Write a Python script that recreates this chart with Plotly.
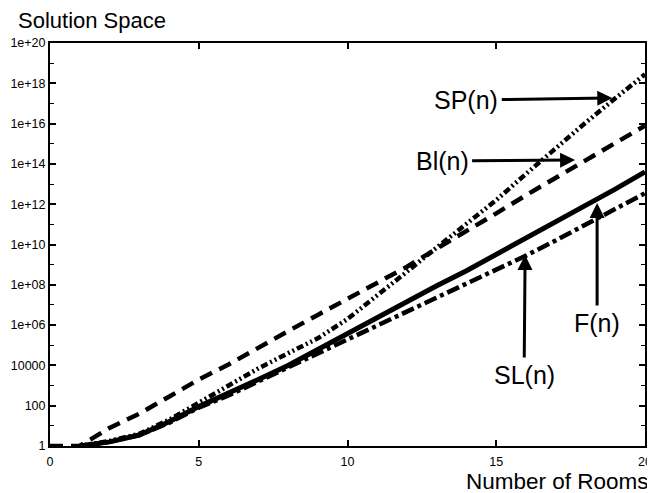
import plotly.graph_objects as go

# Number of rooms
n_bl = list(range(0, 21))
n_all = list(range(1, 21))

# Bl(n)
bl_vals = [1, 1, 7.9, 40, 280, 2.0e3, 1.1e4, 7.9e4, 5.0e5, 3.2e6, 2.0e7,
           1.26e8, 7.9e8, 6.3e9, 4.5e10, 3.5e11, 2.8e12, 2.0e13, 1.6e14, 1.1e15, 7.9e15]
# SP(n)
sp_vals = [1, 1.8, 4, 20, 140, 1.0e3, 7.1e3, 4.0e4, 2.2e5, 2.0e6,
           2.8e7, 4.5e8, 7.1e9, 1.0e11, 1.6e12, 3.2e13, 6.3e14, 1.1e16, 1.8e17, 2.8e18]
# F(n)
f_vals = [1, 1.6, 3.5, 16, 90, 400, 2.0e3, 1.0e4, 6.3e4, 4.0e5,
          2.2e6, 1.4e7, 8.9e7, 5.0e8, 3.2e9, 2.0e10, 1.26e11, 7.9e11, 5.6e12, 4.0e13]
# SL(n)
sl_vals = [1, 1.6, 3.5, 14, 80, 320, 1.6e3, 7.9e3, 4.0e4, 2.0e5,
           1.0e6, 5.0e6, 2.5e7, 1.26e8, 6.3e8, 2.8e9, 1.6e10, 1.0e11, 5.6e11, 3.5e12]

y_tickvals = [1e0, 1e2, 1e4, 1e6, 1e8, 1e10, 1e12, 1e14, 1e16, 1e18, 1e20]
y_ticktext = ["1", "100", "10000", "1e+06", "1e+08", "1e+10", "1e+12",
              "1e+14", "1e+16", "1e+18", "1e+20"]
y_minor = [1e1, 1e3, 1e5, 1e7, 1e9, 1e11, 1e13, 1e15, 1e17, 1e19]
x_tickvals = [0, 5, 10, 15, 20]

FONT = "Liberation Sans, Arial, Helvetica, sans-serif"

fig = go.Figure()
fig.add_trace(go.Scatter(x=n_bl, y=bl_vals, mode="lines",
                         line=dict(color="black", width=4.5, dash="13px,8px"),
                         name="Bl(n)"))
fig.add_trace(go.Scatter(x=n_all, y=sp_vals, mode="lines",
                         line=dict(color="black", width=4.5,
                                   dash="7px,3px,2px,3px,2px,3px"),
                         name="SP(n)"))
fig.add_trace(go.Scatter(x=n_all, y=sl_vals, mode="lines",
                         line=dict(color="black", width=4.5,
                                   dash="13px,4px,4px,4px"),
                         name="SL(n)"))
fig.add_trace(go.Scatter(x=n_all, y=f_vals, mode="lines",
                         line=dict(color="black", width=5),
                         name="F(n)"))

arrow_font = dict(family=FONT, size=25, color="black")
# head positions (x, log10 y) and tail pixel offsets
annots = [
    ("SP(n)", 18.9, 17.27, -146, 2),
    ("Bl(n)", 17.65, 14.19, -133, 1),
    ("F(n)", 18.39, 12.06, 0, 120),
    ("SL(n)", 15.97, 9.48, -1, 120),
]
for txt, hx, hy, ax, ay in annots:
    fig.add_annotation(x=hx, y=hy, xref="x", yref="y", text=txt,
                       showarrow=True, ax=ax, ay=ay, arrowhead=2,
                       arrowsize=1, arrowwidth=3, arrowcolor="black",
                       font=arrow_font, standoff=0, startstandoff=2)

fig.add_annotation(text="Solution Space", xref="paper", yref="paper",
                   x=(16 - 50) / 595, y=1 + (43 - 21) / 403,
                   xanchor="left", yanchor="middle", showarrow=False,
                   font=dict(family=FONT, size=22, color="black"))
fig.add_annotation(text="Number of Rooms", xref="paper", yref="paper",
                   x=(651 - 50) / 595, y=-(481 - 446) / 403,
                   xanchor="right", yanchor="middle", showarrow=False,
                   font=dict(family=FONT, size=22.5, color="black"))

fig.update_layout(
    width=647, height=485,
    margin=dict(l=42, r=10, t=35, b=47, autoexpand=False),
    paper_bgcolor="white", plot_bgcolor="white",
    showlegend=False,
    font=dict(family=FONT, size=12.5, color="black"),
)
fig.update_xaxes(range=[0, 20], tickmode="array", tickvals=x_tickvals,
                 ticks="inside", ticklen=6, tickwidth=1.5, tickcolor="black",
                 showline=True, linecolor="black", linewidth=2, mirror="ticks",
                 showgrid=False, zeroline=False, automargin=False,
                 ticklabelstandoff=3,
                 tickfont=dict(family=FONT, size=12.5, color="black"))
fig.update_yaxes(type="log", range=[0, 20], tickmode="array",
                 tickvals=y_tickvals, ticktext=y_ticktext,
                 ticks="inside", ticklen=6, tickwidth=1.5, tickcolor="black",
                 minor=dict(tickmode="array", tickvals=y_minor, ticks="inside",
                            ticklen=4, tickwidth=1, tickcolor="black"),
                 showline=True, linecolor="black", linewidth=2, mirror="ticks",
                 showgrid=False, zeroline=False, automargin=False,
                 tickfont=dict(family=FONT, size=12.5, color="black"))

fig.write_html("out.html")
